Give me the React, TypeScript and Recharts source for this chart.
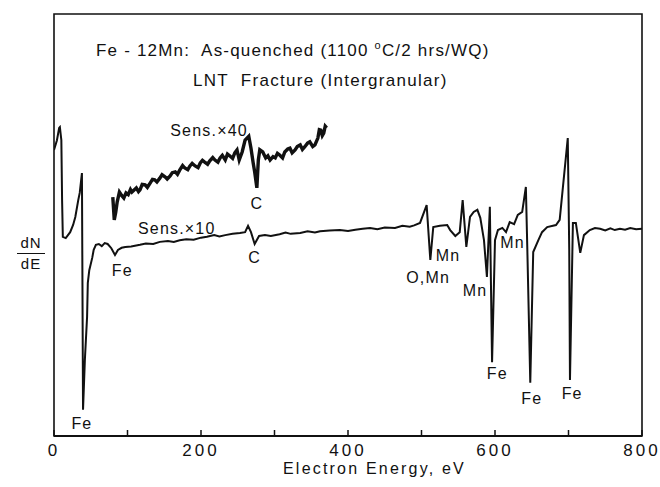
import React from 'react';
import { LineChart, Line, XAxis, YAxis, ReferenceArea, ReferenceDot } from 'recharts';

// Auger spectrum, Fe-12Mn fracture surface. Energy in eV, dN/dE in arbitrary units (0-100).
const X10_ENERGY = [
  0, 4, 7, 8, 10, 11, 12, 16, 22, 26, 29, 33, 35, 38, 39.5, 42, 45, 46, 48, 52, 54, 57, 61, 65, 69, 73, 78, 83,
  87, 92, 97, 105, 117, 125, 135, 144, 155, 163, 171, 180, 190, 200, 208, 218, 225, 233, 243, 253, 260, 264,
  268, 273, 279, 287, 295, 307, 315, 322, 335, 345, 355, 362, 375, 389, 400, 410, 420, 430, 440, 450, 464,
  474, 484, 490, 498, 507, 512, 516, 525, 535, 539, 546, 552, 556, 561, 566, 571, 576, 580, 585, 589, 592,
  593, 596, 600, 604, 610, 615, 620, 626, 631, 637, 642, 644, 648, 652, 659, 664, 671, 683, 688, 699, 701,
  702, 706, 710, 716, 721, 729, 736, 743, 750, 757, 763, 770, 777, 784, 792, 800,
];
const X10_SIGNAL = [
  67.8, 70.1, 73.0, 73.2, 70.1, 55.9, 47.2, 46.9, 48.3, 50.0, 51.9, 55.9, 57.6, 62.3, 6.2, 18.0, 28.2, 36.3,
  39.3, 42.2, 44.1, 45.3, 45.5, 45.0, 45.7, 45.5, 44.5, 42.9, 44.1, 44.6, 44.8, 44.9, 45.3, 45.6, 45.5, 46.0,
  46.2, 46.0, 46.4, 46.6, 46.5, 47.0, 47.2, 47.6, 47.3, 47.6, 47.9, 48.1, 48.3, 49.8, 48.3, 45.5, 47.4, 47.6,
  47.4, 47.8, 48.2, 47.9, 48.1, 48.5, 48.2, 48.5, 48.7, 48.8, 48.6, 48.9, 49.1, 49.3, 49.0, 49.4, 49.3, 49.8,
  49.6, 49.9, 50.5, 54.7, 41.7, 49.5, 49.8, 50.0, 48.8, 47.4, 48.3, 55.9, 44.8, 51.9, 53.1, 53.6, 51.7, 46.4,
  37.7, 50.0, 54.3, 17.5, 46.4, 48.8, 49.3, 48.3, 50.7, 50.2, 52.4, 53.1, 59.0, 44.1, 12.6, 43.6, 46.4, 48.3,
  49.5, 50.0, 51.2, 70.6, 44.1, 13.3, 50.5, 50.5, 43.4, 47.6, 48.8, 49.3, 49.1, 48.7, 49.2, 48.8, 49.1, 48.9,
  49.3, 49.0, 49.1,
];

// high-gain trace over the carbon region
const X40_ENERGY = [
  80, 82, 84, 86, 89, 92, 95, 98, 101, 104, 106, 109, 112, 115, 117, 120, 124, 127, 131, 134, 137, 140, 144,
  147, 151, 154, 158, 161, 165, 168, 171, 175, 178, 182, 185, 188, 192, 196, 199, 202, 205, 209, 212, 216,
  219, 223, 226, 229, 233, 236, 239, 243, 246, 249, 252, 256, 260, 265, 268, 271, 273, 276, 278, 280, 284,
  288, 291, 294, 298, 301, 304, 307, 311, 314, 318, 321, 324, 328, 331, 335, 338, 341, 345, 348, 352, 355,
  359, 361, 363, 365, 367, 369, 371,
];
const X40_SIGNAL = [
  56.6, 51.2, 53.0, 55.5, 57.8, 57.0, 56.4, 57.6, 57.2, 58.4, 57.8, 58.3, 58.8, 57.9, 58.3, 59.6, 59.5, 58.9,
  60.0, 60.8, 60.7, 60.2, 61.1, 61.9, 61.4, 60.9, 61.6, 62.4, 62.6, 62.0, 63.0, 64.1, 63.5, 63.1, 64.0, 64.6,
  64.0, 63.6, 64.7, 65.3, 64.9, 64.4, 65.2, 66.0, 65.4, 64.9, 65.9, 66.5, 65.4, 66.8, 66.4, 65.8, 67.1, 67.8,
  65.4, 67.3, 70.1, 71.0, 68.2, 64.7, 62.6, 58.8, 65.4, 67.8, 67.3, 65.9, 66.4, 65.4, 66.2, 65.9, 67.0, 66.6,
  65.9, 67.3, 68.0, 68.2, 67.1, 67.8, 68.6, 69.0, 67.9, 68.5, 69.4, 69.7, 68.6, 69.0, 70.6, 72.6, 72.5, 71.2,
  71.8, 73.4, 73.0,
];

const ENERGY_TICKS = [0, 100, 200, 300, 400, 500, 600, 700, 800];
const LABELLED_TICKS = [0, 200, 400, 600, 800];

// peak identifications
const PEAK_LABELS = [
  { text: 'Sens.×40', e: 211, v: 72.5 },
  { text: 'C', e: 276, v: 55.2 },
  { text: 'Sens.×10', e: 167, v: 49.3 },
  { text: 'C', e: 273, v: 42.4 },
  { text: 'Fe', e: 93, v: 39.3 },
  { text: 'Fe', e: 38, v: 3.1 },
  { text: 'O,Mn', e: 509, v: 37.7 },
  { text: 'Mn', e: 536, v: 42.9 },
  { text: 'Mn', e: 573, v: 34.6 },
  { text: 'Mn', e: 624, v: 46.0 },
  { text: 'Fe', e: 603, v: 14.9 },
  { text: 'Fe', e: 650, v: 9.0 },
  { text: 'Fe', e: 705, v: 10.2 },
];

const FONT = '"Liberation Sans", Arial, sans-serif';
const INK = '#111';

const x10 = X10_ENERGY.map((e, i) => ({ e, v: X10_SIGNAL[i] }));
const x40 = X40_ENERGY.map((e, i) => ({ e, v: X40_SIGNAL[i] }));

// inward tick marks, numbers only every 200 eV
const EnergyTick = (props: any) => {
  const { x, y, payload } = props;
  const val = payload.value as number;
  return (
    <g>
      <line x1={x} y1={y} x2={x} y2={y - 6} stroke={INK} strokeWidth={1.5} />
      {LABELLED_TICKS.includes(val) && (
        <text x={x} y={y + 20} textAnchor="middle" fill={INK} fontSize={17} fontFamily={FONT} letterSpacing={3}>
          {val}
        </text>
      )}
    </g>
  );
};

export default function App() {
  return (
    <div style={{ position: 'absolute', left: 0, top: 0, width: 660, height: 487, background: '#fff', fontFamily: FONT, color: INK }}>
      <LineChart width={660} height={487} margin={{ top: 14, right: 18, bottom: 0, left: 54 }}>
        <XAxis
          type="number"
          dataKey="e"
          domain={[0, 800]}
          ticks={ENERGY_TICKS}
          interval={0}
          height={51}
          tickSize={0}
          tickMargin={0}
          tickLine={false}
          axisLine={{ stroke: INK, strokeWidth: 1.8 }}
          tick={<EnergyTick />}
          allowDataOverflow
        />
        <YAxis type="number" domain={[0, 100]} hide allowDataOverflow />
        <ReferenceArea x1={0} x2={800} y1={0} y2={100} fill="none" stroke={INK} strokeWidth={1.6} />
        <Line
          data={x10}
          dataKey="v"
          type="linear"
          stroke={INK}
          strokeWidth={2}
          dot={false}
          isAnimationActive={false}
        />
        <Line
          data={x40}
          dataKey="v"
          type="linear"
          stroke={INK}
          strokeWidth={3.4}
          dot={false}
          isAnimationActive={false}
        />
        {PEAK_LABELS.map((p, i) => (
          <ReferenceDot
            key={i}
            x={p.e}
            y={p.v}
            r={1}
            fill="none"
            stroke="none"
            ifOverflow="visible"
            label={{ value: p.text, position: 'center', fill: INK, fontSize: 16, fontFamily: FONT, letterSpacing: 1.2 }}
          />
        ))}
      </LineChart>

      <div style={{ position: 'absolute', left: 96, top: 39, fontSize: 17, letterSpacing: 1.2, whiteSpace: 'pre' }}>
        {'Fe - 12Mn:  As-quenched (1100 '}
        <sup style={{ fontSize: 11 }}>o</sup>
        {'C/2 hrs/WQ)'}
      </div>
      <div style={{ position: 'absolute', left: 193, top: 71, fontSize: 17, letterSpacing: 1.3, whiteSpace: 'pre' }}>
        {'LNT  Fracture (Intergranular)'}
      </div>

      <div style={{ position: 'absolute', left: 17, top: 234, width: 28, textAlign: 'center', fontSize: 15, lineHeight: '18px', letterSpacing: 1 }}>
        <div style={{ borderBottom: `1.5px solid ${INK}`, paddingBottom: 1 }}>dN</div>
        <div style={{ paddingTop: 1 }}>dE</div>
      </div>

      <div style={{ position: 'absolute', left: 283, top: 460, fontSize: 16, letterSpacing: 2.2, whiteSpace: 'pre' }}>
        Electron Energy, eV
      </div>
    </div>
  );
}
